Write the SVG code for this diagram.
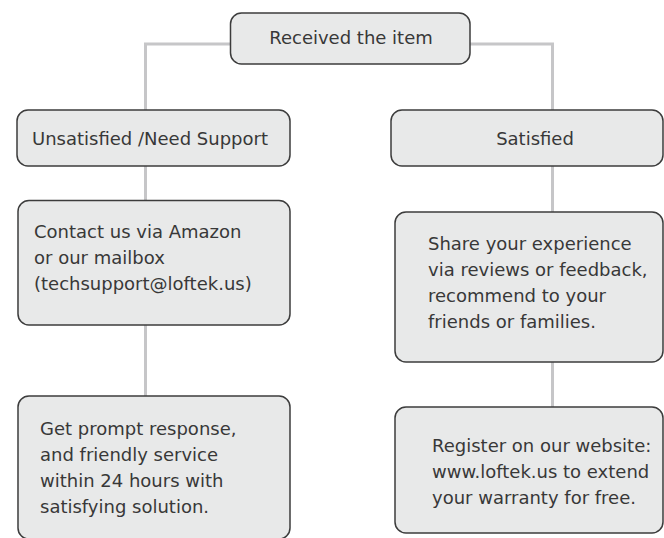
<svg xmlns="http://www.w3.org/2000/svg" width="664" height="538" viewBox="0 0 664 538">
<style>
.box{fill:#e8e9e9;stroke:#3c3c3c;stroke-width:1.5}
.t{font-family:"DejaVu Sans","Liberation Sans",sans-serif;font-size:18px;fill:#383838}
.c{fill:none;stroke:#c6c6c8;stroke-width:3}
</style>
<rect width="664" height="538" fill="#ffffff"/>
<g id="connectors">
<path class="c" d="M230,44 H145.5 V110"/>
<path class="c" d="M470,44 H552.5 V110"/>
<path class="c" d="M145.5,166 V200"/>
<path class="c" d="M145.5,325 V396"/>
<path class="c" d="M552.5,166 V212"/>
<path class="c" d="M552.5,362 V407"/>
</g>
<g id="received">
<rect class="box" x="230.5" y="13" width="239.5" height="51" rx="11"/>
<text class="t" x="351" y="44" text-anchor="middle">Received the item</text>
</g>
<g id="unsatisfied">
<rect class="box" x="17" y="110" width="273" height="56" rx="11"/>
<text class="t" x="32" y="144.5">Unsatisfied /Need Support</text>
</g>
<g id="satisfied">
<rect class="box" x="391" y="110" width="272" height="56" rx="11"/>
<text class="t" x="535" y="144.5" text-anchor="middle">Satisfied</text>
</g>
<g id="contact">
<rect class="box" x="18" y="200.5" width="272" height="124.5" rx="11"/>
<text class="t" x="34" y="237.5">Contact us via Amazon</text>
<text class="t" x="34" y="263.5">or our mailbox</text>
<text class="t" x="34" y="289.5">(techsupport@loftek.us)</text>
</g>
<g id="response">
<rect class="box" x="18" y="396" width="272" height="143" rx="11"/>
<text class="t" x="40" y="435">Get prompt response,</text>
<text class="t" x="40" y="461">and friendly service</text>
<text class="t" x="40" y="487">within 24 hours with</text>
<text class="t" x="40" y="513">satisfying solution.</text>
</g>
<g id="share">
<rect class="box" x="395" y="212" width="268" height="150" rx="11"/>
<text class="t" x="428" y="250">Share your experience</text>
<text class="t" x="428" y="276">via reviews or feedback,</text>
<text class="t" x="428" y="302">recommend to your</text>
<text class="t" x="428" y="328">friends or families.</text>
</g>
<g id="register">
<rect class="box" x="395" y="407" width="268" height="126" rx="11"/>
<text class="t" x="432" y="452">Register on our website:</text>
<text class="t" x="432" y="478">www.loftek.us to extend</text>
<text class="t" x="432" y="504">your warranty for free.</text>
</g>
</svg>
